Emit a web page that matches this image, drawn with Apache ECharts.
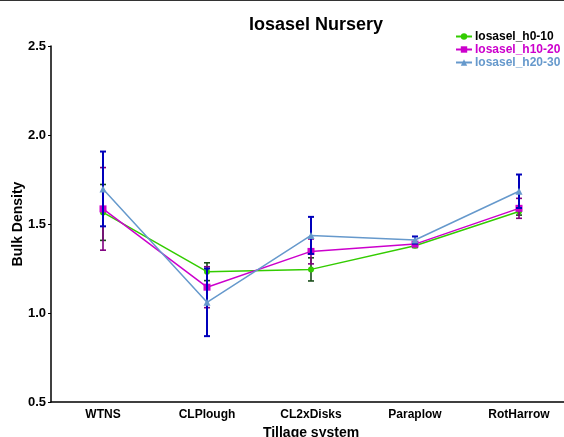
<!DOCTYPE html>
<html><head><meta charset="utf-8">
<script src="https://cdn.jsdelivr.net/npm/echarts@6/dist/echarts.min.js"></script>
<style>html,body{margin:0;padding:0;background:#fff}#c{width:564px;height:437px}</style>
</head><body><div id="c"></div>
<script>
var categories = ['WTNS','CLPlough','CL2xDisks','Paraplow','RotHarrow'];
var seriesNames = ['Iosasel_h0-10','Iosasel_h10-20','Iosasel_h20-30'];
var h0_10 = [1.565, 1.232, 1.245, 1.378, 1.570];
var h0_10_err = [0.157, 0.05, 0.065, 0.01, 0.02];
var h10_20 = [1.585, 1.145, 1.346, 1.387, 1.588];
var h10_20_err = [0.232, 0.115, 0.07, 0.01, 0.056];
var h20_30 = [1.697, 1.06, 1.436, 1.41, 1.684];
var h20_30_err = [0.21, 0.19, 0.104, 0.02, 0.094];
var yTicks = [0.5, 1.0, 1.5, 2.0, 2.5];

var lineColors = ['#33cc00', '#cc00cc', '#6699cc'];
var barColors = ['#1a4d1a', '#800080', '#0000bb'];
var textColors = ['#000000', '#cc00cc', '#6699cc'];
var symbols = ['circle', 'rect', 'triangle'];
var vals = [h0_10, h10_20, h20_30];
var errs = [h0_10_err, h10_20_err, h20_30_err];

var font = 'Liberation Sans, Arial, sans-serif';
var series = [];
vals.forEach(function (v, s) {
  var d = v.map(function (y, i) { return [i, y - errs[s][i], y + errs[s][i]]; });
  series.push({
    type: 'custom', name: seriesNames[s] + '_err', z: 2 + s * 2,
    data: d, encode: { x: 0, y: [1, 2] },
    renderItem: function (params, api) {
      var x = api.value(0);
      var lo = api.coord([x, api.value(1)]);
      var hi = api.coord([x, api.value(2)]);
      var w = 3;
      var st = { stroke: barColors[s], lineWidth: s === 2 ? 2 : 1.6 };
      return { type: 'group', children: [
        { type: 'line', shape: { x1: lo[0], y1: lo[1], x2: hi[0], y2: hi[1] }, style: st },
        { type: 'line', shape: { x1: lo[0] - w, y1: lo[1], x2: lo[0] + w, y2: lo[1] }, style: st },
        { type: 'line', shape: { x1: hi[0] - w, y1: hi[1], x2: hi[0] + w, y2: hi[1] }, style: st }
      ]};
    },
    silent: true
  });
  series.push({
    type: 'line', name: seriesNames[s], z: 3 + s * 2, data: v,
    symbol: symbols[s], symbolSize: s === 0 ? 6 : 7,
    lineStyle: { color: lineColors[s], width: 1.5 },
    itemStyle: { color: lineColors[s] },
    animation: false
  });
});

var chart = echarts.init(document.getElementById('c'), null, { renderer: 'canvas' });
chart.setOption({
  animation: false,
  backgroundColor: '#fff',
  title: {
    text: 'Iosasel Nursery', left: 311, textAlign: 'center', top: 11,
    textStyle: { fontFamily: font, fontSize: 18, fontWeight: 'bold', color: '#000' }
  },
  legend: {
    orient: 'vertical', left: 455, top: 30, padding: 0, itemGap: 0, itemWidth: 16, itemHeight: 8,
    data: seriesNames.map(function (n, i) {
      return { name: n, textStyle: { color: textColors[i] } };
    }),
    textStyle: { fontFamily: font, fontSize: 12, lineHeight: 13, fontWeight: 'bold', padding: [0,0,0,-2] }
  },
  grid: { left: 51, top: 46, width: 520, height: 356, containLabel: false, outerBoundsMode: 'none' },
  xAxis: {
    type: 'category', data: categories, boundaryGap: true,
    name: 'Tillage system', nameLocation: 'middle', nameGap: 24,
    nameTextStyle: { fontFamily: font, fontSize: 14, fontWeight: 'bold', color: '#000' },
    axisLine: { lineStyle: { color: '#000', width: 1.5 } },
    axisTick: { alignWithLabel: true, length: 3, lineStyle: { color: '#000' } },
    axisLabel: { fontFamily: font, fontSize: 12, fontWeight: 'bold', color: '#000', margin: 7 },
    splitLine: { show: false }
  },
  yAxis: {
    type: 'value', min: 0.5, max: 2.5, interval: 0.5,
    name: 'Bulk Density', nameLocation: 'middle', nameGap: 26, nameRotate: 90, nameMoveOverlap: false,
    nameTextStyle: { fontFamily: font, fontSize: 14, fontWeight: 'bold', color: '#000' },
    axisLine: { show: true, lineStyle: { color: '#000', width: 1.5 } },
    axisTick: { show: true, length: 3, lineStyle: { color: '#000' } },
    axisLabel: { fontFamily: font, fontSize: 13, fontWeight: 'bold', color: '#000', margin: 5,
      formatter: function (v) { return yTicks.indexOf(v) >= 0 ? v.toFixed(1) : ''; } },
    splitLine: { show: false }
  },
  graphic: [{ type: 'line', shape: { x1: 0, y1: 0.5, x2: 564, y2: 0.5 }, style: { stroke: '#333', lineWidth: 1 } }],
  series: series
});
</script></body></html>
